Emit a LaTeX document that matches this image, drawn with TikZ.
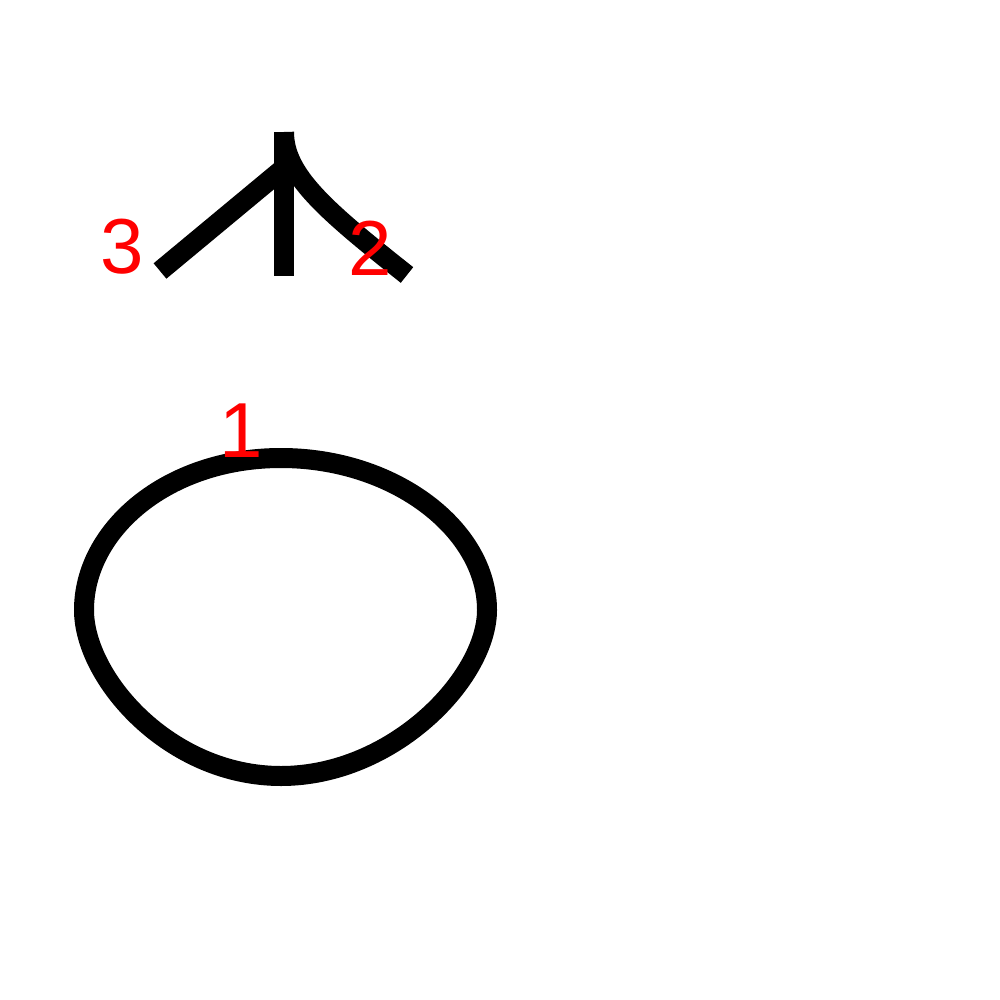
\documentclass[tikz,border=0pt]{standalone}
\usepackage{fontspec}
\setmainfont{Liberation Sans}
\begin{document}
\begin{tikzpicture}[x=1pt,y=-1pt,
  stroke/.style={line width=20pt,black,line cap=butt},
  lbl/.style={text=red,font=\fontsize{78}{80}\selectfont,inner sep=0pt,anchor=base}]
\useasboundingbox[fill=white] (0,0) rectangle (1000,1000);
% top figure
\coordinate (vtop) at (284,132);
\coordinate (vbot) at (284,276);
\coordinate (lend) at (160,271);
\coordinate (ljoin) at (284,168);
\coordinate (rend) at (407,275);
\draw[stroke] (vtop) -- (vbot);
\draw[stroke] (lend) -- (ljoin);
\draw[stroke] (vtop) .. controls (284,175) and (325,210) .. (rend);
% loop
\coordinate (ot) at (281,458);
\coordinate (or) at (487,610);
\coordinate (ob) at (281,776);
\coordinate (ol) at (84,610);
\draw[stroke] (ot) .. controls (395,458) and (487,530) .. (or)
  .. controls (487,678) and (393,776) .. (ob)
  .. controls (169,776) and (84,678) .. (ol)
  .. controls (84,530) and (167,458) .. (ot) -- cycle;
% labels
\node[lbl] (n3) at (122,273) {3};
\node[lbl] (n2) at (370,275) {2};
\node[lbl] (n1) at (241,457) {1};
\end{tikzpicture}
\end{document}
